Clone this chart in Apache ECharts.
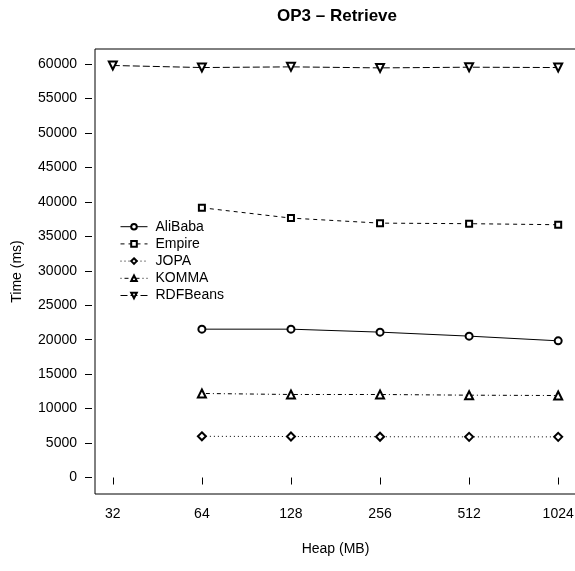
<!DOCTYPE html>
<html>
<head>
<meta charset="utf-8">
<script src="https://cdn.jsdelivr.net/npm/echarts@6/dist/echarts.min.js"></script>
<style>html,body{margin:0;padding:0;background:#fff;}#c{width:575px;height:571px;}</style>
</head>
<body>
<div id="c"></div>
<script>
var heapMB = [32, 64, 128, 256, 512, 1024];
var yTicks = [0, 5000, 10000, 15000, 20000, 25000, 30000, 35000, 40000, 45000, 50000, 55000, 60000];
var seriesNames = ['AliBaba', 'Empire', 'JOPA', 'KOMMA', 'RDFBeans'];
var alibaba = [null, 21530, 21530, 21100, 20520, 19840];
var empire = [null, 39150, 37650, 36920, 36840, 36690];
var jopa = [null, 5980, 5950, 5920, 5900, 5900];
var komma = [null, 12200, 12050, 12050, 11950, 11900];
var rdfbeans = [59800, 59500, 59600, 59450, 59550, 59500];

function pairs(vals) {
  var out = [];
  for (var i = 0; i < heapMB.length; i++) if (vals[i] != null) out.push([heapMB[i], vals[i]]);
  return out;
}
var FONT = '"Liberation Sans", Arial, sans-serif';
var styles = [
  {v: alibaba, sym: 'emptyCircle', size: 7, rot: 0, dash: 'solid'},
  {v: empire, sym: 'emptyRect', size: 6, rot: 0, dash: [4, 4]},
  {v: jopa, sym: 'emptyDiamond', size: 8, rot: 0, dash: [1, 3]},
  {v: komma, sym: 'emptyTriangle', size: 8, rot: 0, dash: [1, 3, 4, 3]},
  {v: rdfbeans, sym: 'emptyTriangle', size: 8, rot: 180, dash: [7, 3]}
];
var series = styles.map(function (s, i) {
  return {
    name: seriesNames[i], type: 'line', data: pairs(s.v),
    symbol: s.sym, symbolSize: s.size, symbolRotate: s.rot, showSymbol: true,
    lineStyle: {color: '#000', width: 1, type: s.dash},
    itemStyle: {color: '#000', borderColor: '#000', borderWidth: 1},
    emphasis: {disabled: true}, silent: true, z: 3
  };
});
var xMin = 32 / Math.pow(2, 0.2), xMax = 1024 * Math.pow(2, 0.2);
var yMin = -2392, yMax = 62192;
var chart = echarts.init(document.getElementById('c'), null, {renderer: 'canvas'});
chart.setOption({
  animation: false,
  backgroundColor: '#fff',
  title: {text: 'OP3 \u2013 Retrieve', left: 277, top: 8, padding: 0,
    textStyle: {fontFamily: FONT, fontSize: 17, fontWeight: 'bold', color: '#000'}},
  legend: {
    orient: 'vertical', left: 115, top: 214.7, itemWidth: 27, itemHeight: 7, itemGap: 3.2,
    textStyle: {fontFamily: FONT, fontSize: 14, color: '#000', lineHeight: 14, padding: [0, 0, 0, 3]},
    lineStyle: {width: 1},
    itemStyle: {borderWidth: 1},
    selectedMode: false, data: seriesNames
  },
  grid: {left: 95, top: 49, width: 481, height: 445, show: true, borderColor: '#000', borderWidth: 1,
    containLabel: false, outerBoundsMode: 'none'},
  xAxis: {
    type: 'log', logBase: 2, min: xMin, max: xMax, offset: 3,
    name: 'Heap (MB)', nameLocation: 'middle', nameGap: 45,
    nameTextStyle: {fontFamily: FONT, fontSize: 14, color: '#000'},
    axisLine: {show: false},
    axisTick: {show: true, length: 7, lineStyle: {color: '#000'}, customValues: heapMB},
    axisLabel: {fontFamily: FONT, fontSize: 14, color: '#000', margin: 10, customValues: heapMB, formatter: function (v) { return String(Math.round(v)); }},
    splitLine: {show: false}, minorTick: {show: false}
  },
  yAxis: {
    type: 'value', min: yMin, max: yMax, offset: 3,
    name: 'Time (ms)', nameLocation: 'middle', nameGap: 68, nameRotate: 90,
    nameTextStyle: {fontFamily: FONT, fontSize: 14, color: '#000'},
    axisLine: {show: false},
    axisTick: {show: true, length: 7, lineStyle: {color: '#000'}, customValues: yTicks},
    axisLabel: {fontFamily: FONT, fontSize: 14, color: '#000', margin: 15, customValues: yTicks, formatter: function (v) { return String(v); }},
    splitLine: {show: false}
  },
  series: series
});
</script>
</body>
</html>
